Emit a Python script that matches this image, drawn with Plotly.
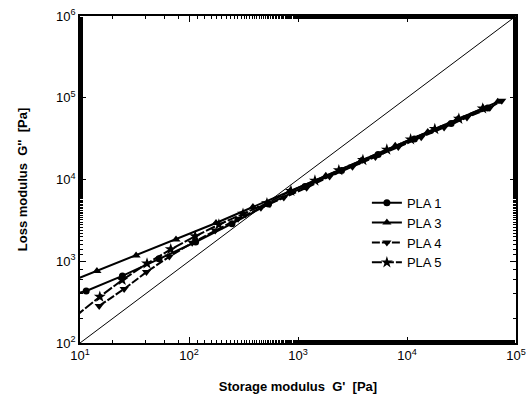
import plotly.graph_objects as go

# Storage modulus G' [Pa] and loss modulus G'' [Pa] for each sample
pla1_gp  = [8.5, 11.4, 24.5, 53, 115, 248, 537, 1160, 2510, 5430, 11700, 25400, 55000]
pla1_gpp = [395, 433, 661, 1070, 1720, 2880, 5000, 8220, 12900, 20200, 31300, 48400, 75000]

pla3_gp  = [7, 14.3, 32.7, 76, 177, 386, 840, 1800, 3800, 7800, 15500, 29000, 50000, 68000]
pla3_gpp = [520, 760, 1175, 1845, 2940, 4610, 7180, 11100, 17100, 25800, 38200, 54700, 74700, 89100]

pla4_gp  = [15.0, 25.4, 40.7, 66, 107, 174, 282, 457, 741, 1200, 1950, 3160, 5130, 8320, 13500, 21900, 35500, 57500, 74000]
pla4_gpp = [284, 458, 738, 1140, 1680, 2380, 3310, 4520, 6030, 7940, 10900, 14300, 18900, 24900, 32900, 43400, 57300, 75500, 92000]

pla5_gp  = [7.5, 15.2, 24.4, 41.2, 68, 114, 188, 313, 519, 861, 1430, 2370, 3940, 6530, 10800, 18000, 29900, 49500]
pla5_gpp = [173, 368, 590, 938, 1400, 2020, 2810, 3810, 5120, 7250, 9700, 12970, 17300, 23200, 31000, 41400, 55300, 73900]

diag_gp  = [10, 100000]
diag_gpp = [100, 1000000]

x_tickvals = [10, 100, 1000, 10000, 100000]
x_ticktext = ["10<sup>1</sup>", "10<sup>2</sup>", "10<sup>3</sup>", "10<sup>4</sup>", "10<sup>5</sup>"]
y_tickvals = [100, 1000, 10000, 100000, 1000000]
y_ticktext = ["10<sup>2</sup>", "10<sup>3</sup>", "10<sup>4</sup>", "10<sup>5</sup>", "10<sup>6</sup>"]

series = [
    ("PLA 1", pla1_gp, pla1_gpp, "circle", 7, "solid"),
    ("PLA 3", pla3_gp, pla3_gpp, "triangle-up", 8, "solid"),
    ("PLA 4", pla4_gp, pla4_gpp, "triangle-down", 8, "8px,2px"),
    ("PLA 5", pla5_gp, pla5_gpp, "star", 9, "10px,2px"),
]

FONT = "Liberation Sans, Arial, sans-serif"

fig = go.Figure()
fig.add_trace(go.Scatter(x=diag_gp, y=diag_gpp, mode="lines",
                         line=dict(color="black", width=1), showlegend=False,
                         hoverinfo="skip"))
for name, xs, ys, sym, sz, dash in series:
    fig.add_trace(go.Scatter(x=xs, y=ys, mode="lines+markers", name=name,
                             line=dict(color="black", width=2, dash=dash),
                             marker=dict(symbol=sym, size=sz, color="black")))

axis_common = dict(
    type="log", showgrid=False, zeroline=False, automargin=False,
    showline=True, linecolor="black", linewidth=1.5, mirror="ticks",
    ticks="inside", ticklen=6, tickwidth=1.2, tickcolor="black",
    minor=dict(ticks="inside", ticklen=3, tickcolor="black", showgrid=False),
    tickfont=dict(family=FONT, size=13, color="black"),
)

fig.update_xaxes(range=[1, 5], tickmode="array", tickvals=x_tickvals, ticktext=x_ticktext,
                 title=dict(text="<b>Storage modulus  G'  [Pa]</b>",
                            font=dict(family=FONT, size=13, color="black"),
                            standoff=20),
                 **axis_common)
fig.update_yaxes(range=[2, 6], tickmode="array", tickvals=y_tickvals, ticktext=y_ticktext,
                 title=dict(text="<b>Loss modulus  G''  [Pa]</b>",
                            font=dict(family=FONT, size=13, color="black"),
                            standoff=26),
                 **axis_common)

fig.update_layout(
    width=528, height=394,
    margin=dict(l=80, r=12, t=16, b=51),
    paper_bgcolor="white", plot_bgcolor="white",
    showlegend=True,
    legend=dict(x=0.658, y=0.475, xanchor="left", yanchor="top",
                bgcolor="rgba(0,0,0,0)", borderwidth=0,
                font=dict(family=FONT, size=13, color="black"),
                tracegroupgap=0, itemwidth=30),
)

fig.write_html("out.html")
